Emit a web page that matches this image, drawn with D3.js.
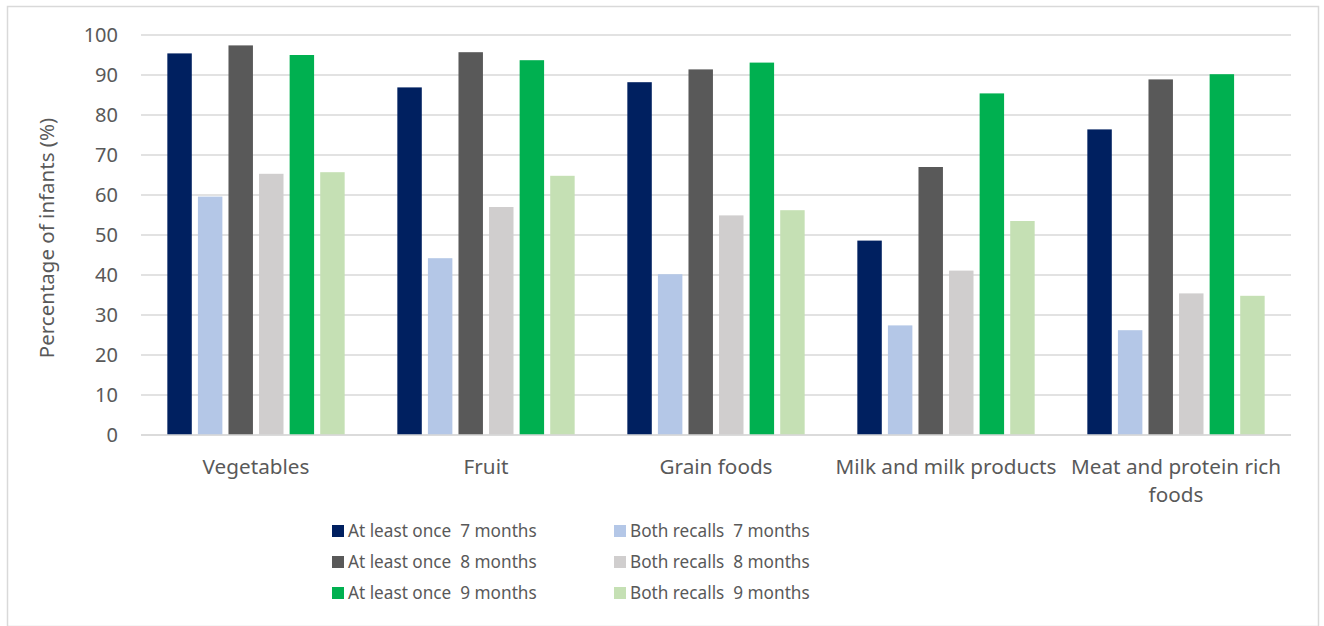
<!DOCTYPE html>
<html>
<head>
<meta charset="utf-8">
<script src="https://cdn.jsdelivr.net/npm/d3@7"></script>
<style>
  body { margin: 0; background: #fff; }
  text { font-family: "Noto Sans", sans-serif; fill: #595959; white-space: pre; }
</style>
</head>
<body>
<div id="chart"></div>
<script>
var categories = ["Vegetables", "Fruit", "Grain foods", "Milk and milk products", "Meat and protein rich foods"]
var seriesNames = ["At least once  7 months", "Both recalls  7 months",
                   "At least once  8 months", "Both recalls  8 months",
                   "At least once  9 months", "Both recalls  9 months"]
var seriesColors = ["#002060", "#B4C7E7", "#595959", "#D0CECE", "#00B050", "#C5E0B4"]

// one array per series, same order as categories
var atLeastOnce7 = [95.4, 86.9, 88.2, 48.6, 76.4]
var bothRecalls7 = [59.6, 44.2, 40.2, 27.4, 26.2]
var atLeastOnce8 = [97.4, 95.7, 91.4, 67.0, 88.9]
var bothRecalls8 = [65.3, 57.0, 54.9, 41.1, 35.4]
var atLeastOnce9 = [95.0, 93.7, 93.1, 85.4, 90.2]
var bothRecalls9 = [65.7, 64.8, 56.2, 53.5, 34.8]
var yTicks = [0, 10, 20, 30, 40, 50, 60, 70, 80, 90, 100]

var seriesValues = [atLeastOnce7, bothRecalls7, atLeastOnce8, bothRecalls8, atLeastOnce9, bothRecalls9]

var W = 1324
var H = 626
var plotLeft = 141, plotRight = 1291, plotTop = 35, plotBottom = 435

var svg = d3.select("#chart")
    .append("svg")
    .attr("width", W)
    .attr("height", H)

// chart border
svg.append("rect")
    .attr("x", 7.5).attr("y", 6.5)
    .attr("width", 1311).attr("height", 620)
    .attr("fill", "none")
    .attr("stroke", "#D9D9D9")
    .attr("stroke-width", 1.5)

var y = d3.scaleLinear().domain([0, 100]).range([plotBottom, plotTop])
var x0 = d3.scaleBand().domain(categories).range([plotLeft, plotRight])
    .paddingInner(0.229).paddingOuter(0.1145)
var x1 = d3.scaleBand().domain(d3.range(seriesNames.length)).range([0, x0.bandwidth()])
    .paddingInner(0.2)

// gridlines
svg.append("g")
    .selectAll("line")
    .data(yTicks)
    .join("line")
    .attr("x1", plotLeft).attr("x2", plotRight)
    .attr("y1", d => y(d)).attr("y2", d => y(d))
    .attr("stroke", "#D9D9D9")
    .attr("stroke-width", 1.3)

// y axis labels
var yAxis = svg.append("g")
    .attr("transform", `translate(${plotLeft - 23},0)`)
    .call(d3.axisLeft(y).tickValues(yTicks).tickSize(0).tickPadding(0))
yAxis.select(".domain").remove()
yAxis.selectAll("text")
    .attr("font-size", 20)
    .style("font-family", "'Noto Sans', sans-serif")
    .attr("fill", "#595959")

// bars
var rows = []
categories.forEach((c, ci) => {
    seriesValues.forEach((vals, si) => rows.push({ cat: c, s: si, v: vals[ci] }))
})

svg.append("g")
    .selectAll("rect")
    .data(rows)
    .join("rect")
    .attr("x", d => x0(d.cat) + x1(d.s))
    .attr("width", x1.bandwidth())
    .attr("y", d => y(d.v))
    .attr("height", d => y(0) - y(d.v))
    .attr("fill", d => seriesColors[d.s])

// baseline
svg.append("line")
    .attr("x1", plotLeft).attr("x2", plotRight)
    .attr("y1", y(0)).attr("y2", y(0))
    .attr("stroke", "#D9D9D9")
    .attr("stroke-width", 1.5)

// category labels (wrap long one)
var catLabels = { "Meat and protein rich foods": ["Meat and protein rich", "foods"] }
var catG = svg.append("g")
categories.forEach(c => {
    var lines = catLabels[c] || [c]
    var t = catG.append("text")
        .attr("text-anchor", "middle")
        .attr("font-size", 20.7)
    lines.forEach((l, i) => {
        t.append("tspan")
            .attr("x", x0(c) + x0.bandwidth() / 2)
            .attr("y", 474 + i * 28)
            .text(l)
    })
})

// y axis title
svg.append("text")
    .attr("transform", `translate(54,${(plotTop + plotBottom) / 2 + 3}) rotate(-90)`)
    .attr("text-anchor", "middle")
    .attr("font-size", 20.5)
    .text("Percentage of infants (%)")

// legend
var legend = svg.append("g")
    .selectAll("g")
    .data(seriesNames)
    .join("g")
    .attr("transform", (d, i) => `translate(${i % 2 === 0 ? 332 : 614},${531 + Math.floor(i / 2) * 31})`)

legend.append("rect")
    .attr("x", 0).attr("y", -6)
    .attr("width", 12).attr("height", 12)
    .attr("fill", (d, i) => seriesColors[i])

legend.append("text")
    .attr("x", 16)
    .attr("y", 0)
    .attr("dy", "0.35em")
    .attr("font-size", 17.2)
    .text(d => d)
</script>
</body>
</html>
